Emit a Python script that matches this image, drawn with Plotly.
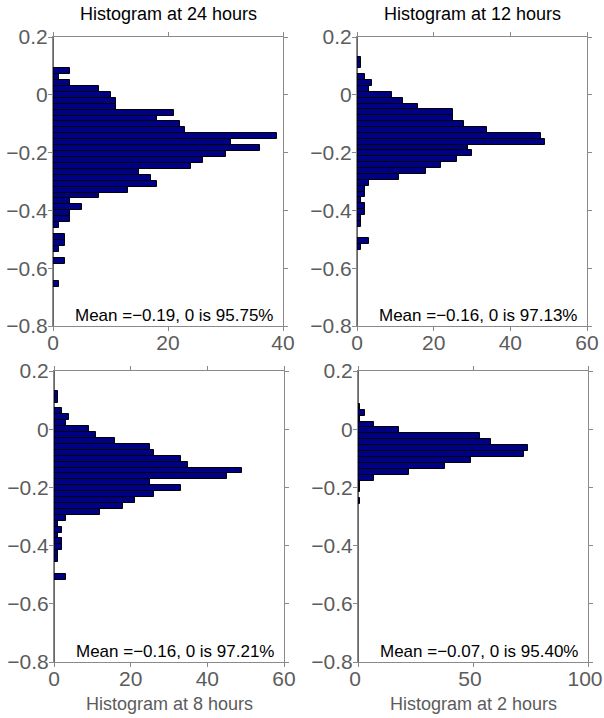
import plotly.graph_objects as go

# ---------------- data ----------------
# counts listed from the top bin downward
counts_24h = [3, 1, 3, 8, 10, 11, 11, 21, 18, 22, 23, 39, 31, 36, 30, 26, 24, 15, 17, 18,
              13, 8, 3, 5, 3, 3, 1, 0, 2, 2, 1, 0, 2, 0, 0, 0, 1]
top_24h, width_24h = 0.082, 0.0205

counts_12h = [1, 1, 0, 2, 4, 3, 9, 12, 16, 25, 25, 28, 34, 48, 49, 29, 30, 26, 22, 18,
              11, 3, 2, 2, 1, 2, 2, 1, 1, 0, 0, 3, 1]
top_12h, width_12h = 0.122, 0.0203

counts_8h = [1, 1, 0, 2, 4, 3, 9, 11, 16, 25, 26, 33, 35, 49, 45, 25, 33, 26, 21, 18,
             12, 3, 1, 2, 1, 2, 2, 1, 1, 0, 0, 3]
top_8h, width_8h = 0.122, 0.0203

counts_2h = [1, 3, 1, 7, 18, 53, 58, 74, 72, 49, 38, 22, 7, 1, 1, 0, 1]
top_2h, width_2h = 0.077, 0.0203

titles = ["Histogram at 24 hours", "Histogram at 12 hours",
          "Histogram at 8 hours", "Histogram at 2 hours"]
notes = ["Mean =\u22120.19, 0 is 95.75%", "Mean =\u22120.16, 0 is 97.13%",
         "Mean =\u22120.16, 0 is 97.21%", "Mean =\u22120.07, 0 is 95.40%"]
x_max = [40, 60, 60, 100]
x_ticks = [[0, 20, 40], [0, 20, 40, 60], [0, 20, 40, 60], [0, 50, 100]]
y_ticks = [0.2, 0, -0.2, -0.4, -0.6, -0.8]
y_ticklabels = ["0.2", "0", "\u22120.2", "\u22120.4", "\u22120.6", "\u22120.8"]

panels = [(counts_24h, top_24h, width_24h), (counts_12h, top_12h, width_12h),
          (counts_8h, top_8h, width_8h), (counts_2h, top_2h, width_2h)]

# ---------------- layout geometry ----------------
W, H = 604, 718
xdom = [[53 / W, 283 / W], [357 / W, 587 / W], [54 / W, 284 / W], [358 / W, 588 / W]]
ydom_top = [1 - 326 / H, 1 - 37 / H]
ydom_bot = [1 - 662 / H, 1 - 371 / H]
ydom = [ydom_top, ydom_top, ydom_bot, ydom_bot]
x_label_shift = [0, 0, 0, -3]

FONT = "Liberation Sans, Arial, Helvetica, sans-serif"
TICK_COLOR = "#5c5c5c"
BOX_COLOR = "#8a8a8a"
BAR_COLOR = "#000085"

fig = go.Figure()
layout = dict(width=W, height=H, margin=dict(l=0, r=0, t=0, b=0, autoexpand=False),
              paper_bgcolor="white", plot_bgcolor="white", showlegend=False,
              bargap=0, font=dict(family=FONT, size=18, color=TICK_COLOR))
shapes = []
annotations = []

for i, (counts, top, w) in enumerate(panels):
    n = i + 1
    xa = "x" if n == 1 else f"x{n}"
    ya = "y" if n == 1 else f"y{n}"
    centers = [top - k * w for k in range(len(counts))]
    fig.add_trace(go.Bar(x=counts, y=centers, orientation="h", width=w,
                         marker=dict(color=BAR_COLOR, line=dict(color="black", width=1)),
                         xaxis=xa, yaxis=ya, hoverinfo="x+y"))
    axis_common = dict(showline=True, linecolor=BOX_COLOR, linewidth=1, mirror="allticks",
                       ticks="outside", ticklen=4, tickcolor=BOX_COLOR, showgrid=False,
                       zeroline=False, automargin=False, ticklabeloverflow="allow",
                       tickfont=dict(family=FONT, size=21, color=TICK_COLOR))
    layout["xaxis" if n == 1 else f"xaxis{n}"] = dict(
        domain=xdom[i], range=[0, x_max[i]], tickvals=x_ticks[i],
        anchor=ya, ticklabelstandoff=-6, ticklabelshift=x_label_shift[i], **axis_common)
    layout["yaxis" if n == 1 else f"yaxis{n}"] = dict(
        domain=ydom[i], range=[-0.8, 0.2], tickvals=y_ticks, ticktext=y_ticklabels,
        anchor=xa, ticklabelstandoff=-4, **axis_common)
    # black bar baseline at x = 0
    shapes.append(dict(type="line", xref=xa, yref=f"{ya} domain", x0=0, x1=0, y0=0, y1=1,
                       line=dict(color="black", width=1.2)))
    annotations.append(dict(text=notes[i], xref=f"{xa} domain", yref=f"{ya} domain",
                            x=0.965, y=-0.002, xanchor="right", yanchor="bottom",
                            showarrow=False, font=dict(family=FONT, size=17, color="black")))
    if n <= 2:
        annotations.append(dict(text=titles[i], xref=f"{xa} domain", yref="paper",
                                x=0.5, y=1 - 14 / H, xanchor="center", yanchor="middle",
                                showarrow=False, font=dict(family=FONT, size=18, color="black")))
    else:
        annotations.append(dict(text=titles[i], xref=f"{xa} domain", yref="paper",
                                x=0.5, y=1 - 704 / H, xanchor="center", yanchor="middle",
                                showarrow=False, font=dict(family=FONT, size=18, color=TICK_COLOR)))

layout["shapes"] = shapes
layout["annotations"] = annotations
fig.update_layout(**layout)
fig.write_html("out.html", config={"displayModeBar": False},
               post_script="document.body.style.margin='0px';")
